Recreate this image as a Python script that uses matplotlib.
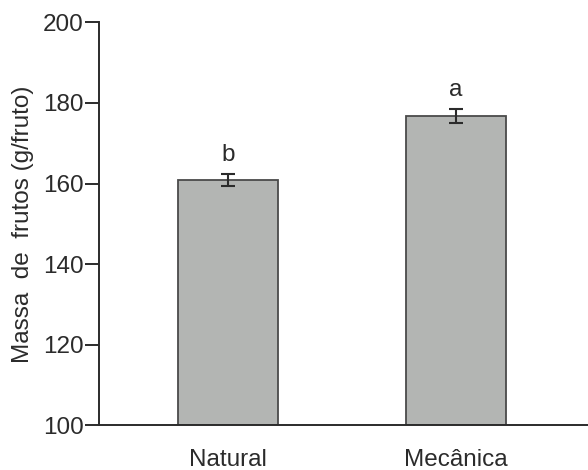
import matplotlib
matplotlib.use("Agg")
import matplotlib.pyplot as plt

categories = ["Natural", "Mecânica"]
means = [160.9, 176.8]
errors = [1.5, 1.7]
letters = ["b", "a"]
yticks = [100, 120, 140, 160, 180, 200]

plt.rcParams["font.family"] = ["Liberation Sans", "DejaVu Sans"]
dark = "#2b2b2b"
fs = 17.5

fig = plt.figure(figsize=(5.88, 4.70), dpi=100)
ax = fig.add_axes([0.168, 0.0947, 0.832, 0.858])

x = list(range(len(categories)))
ax.bar(x, [m - 100 for m in means], bottom=100, width=0.44,
       color="#b3b5b3", edgecolor="#4a4a4a", linewidth=1.3, zorder=2)
ax.errorbar(x, means, yerr=errors, fmt="none", ecolor=dark,
            elinewidth=1.5, capsize=5, capthick=1.5, zorder=3)
for xi, m, e, t in zip(x, means, errors, letters):
    ax.text(xi, m + e + 2.0, t, ha="center", va="bottom",
            fontsize=fs, color=dark)

ax.set_xlim(-0.566, 1.579)
ax.set_ylim(100, 200)
ax.set_yticks(yticks)
ax.set_xticks(x)
ax.set_xticklabels(categories)
ax.set_ylabel("Massa  de  frutos (g/fruto)", fontsize=fs, color=dark, labelpad=6)

for s in ["top", "right"]:
    ax.spines[s].set_visible(False)
for s in ["left", "bottom"]:
    ax.spines[s].set_color(dark)
    ax.spines[s].set_linewidth(1.4)

ax.tick_params(axis="y", length=10, width=1.4, color=dark, labelsize=fs,
               labelcolor=dark, pad=1)
ax.tick_params(axis="x", length=0, labelsize=fs, labelcolor=dark, pad=17)

fig.savefig("out.png", dpi=100)
